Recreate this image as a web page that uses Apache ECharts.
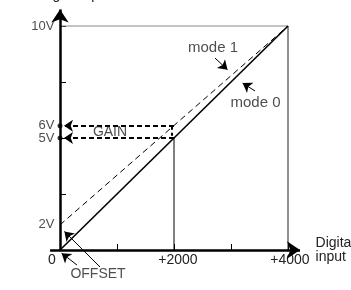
<!DOCTYPE html>
<html><head><meta charset="utf-8">
<script src="https://cdn.jsdelivr.net/npm/echarts@6/dist/echarts.min.js"></script>
<style>html,body{margin:0;padding:0;background:#fff}#c{width:351px;height:290px}</style>
</head><body><div id="c"></div>
<script>
const xTickValues = [0, 2000, 4000];
const xTickLabels = ['0', '+2000', '+4000'];
const yTickValues = [1.12, 5, 5.55, 10];
const yTickLabels = ['2V', '5V', '6V', '10V'];
const mode0 = [[0, 0], [4000, 10]];
const mode1 = [[0, 1.12], [4000, 10]];
const gainLevels = [5.55, 5];
const gainX = 2000;
const gainArrowEndX = 70;
const annotations = ['mode 1', 'mode 0', 'GAIN', 'OFFSET'];
const annotationAt = [[2684, 9.03], [3430, 6.56], [877, 5.27], [667, -1.07]];
const annotationSize = [15, 15, 14, 14];
const pointerFrom = [[2719, 8.57], [3421, 7.10], [702, -0.76], [298, -0.67]];
const pointerTo = [[2939, 8.05], [3204, 7.45], [77, 0.83], [28, -0.14]];
const yAxisEnds = [[0, 0], [0, 10.74]];
const xAxisEnds = [[-174, 0], [4211, 0]];

const FONT = 'Liberation Sans, Arial, sans-serif';
const TXT = '#222';
const chart = echarts.init(document.getElementById('c'), null, {renderer: 'canvas'});

const plainLine = (data, color, width, type, z) => ({
  type: 'line', data, showSymbol: false, symbol: 'none', silent: true, clip: false,
  lineStyle: {color, width, type: type || 'solid'}, z: z || 2, animation: false
});
const arrowLines = (coordsList, width, type, size, z) => ({
  type: 'lines', coordinateSystem: 'cartesian2d', clip: false, silent: true, animation: false,
  symbol: ['none', 'arrow'], symbolSize: size, z: z || 3,
  lineStyle: {color: '#000', width, type: type || 'solid', opacity: 1, curveness: 0},
  data: coordsList.map(c => ({coords: c}))
});

const xLabelRich = {
  z: {padding: [0, 16, 0, 0], fontSize: 14, color: TXT, fontFamily: FONT},
  a: {padding: [0, 0, 0, 8], fontSize: 14, color: TXT, fontFamily: FONT},
  b: {padding: [0, 0, 0, 4], fontSize: 14, color: TXT, fontFamily: FONT}
};
const xKeys = ['z', 'a', 'b'];

chart.setOption({
  animation: false,
  grid: {left: 60, right: 63, top: 26, bottom: 40, containLabel: false, outerBoundsMode: 'none'},
  xAxis: {
    type: 'value', min: 0, max: 4000, interval: 1000,
    axisLine: {show: false}, splitLine: {show: false},
    axisTick: {show: true, inside: true, length: 6, lineStyle: {color: '#000', width: 1}},
    axisLabel: {
      margin: 3, rich: xLabelRich, hideOverlap: false,
      formatter: v => { const i = xTickValues.indexOf(v); return i < 0 ? '' : '{' + xKeys[i] + '|' + xTickLabels[i] + '}'; }
    },
    name: 'Digital\ninput', nameLocation: 'end', nameGap: 26,
    nameTextStyle: {fontSize: 14, color: TXT, fontFamily: FONT, align: 'left', lineHeight: 14}
  },
  yAxis: {
    type: 'value', min: 0, max: 10, interval: 2.5,
    axisLine: {show: false}, splitLine: {show: false},
    axisTick: {show: true, inside: true, length: 6, lineStyle: {color: '#000', width: 1}},
    axisLabel: {show: false},
    name: 'Voltage output', nameLocation: 'end', nameGap: 23.5,
    nameTextStyle: {fontSize: 14, color: TXT, fontFamily: FONT, padding: [0, 0, 0, 12]}
  },
  series: [
    plainLine([[0, 10], [4000, 10]], '#888', 1),
    plainLine([[4000, 10], [4000, 0]], '#222', 1),
    plainLine([[gainX, 0], [gainX, 5]], '#000', 1),
    plainLine(mode1, '#000', 1, [6, 4]),
    plainLine(mode0, '#000', 1.6),
    {
      type: 'lines', coordinateSystem: 'cartesian2d', clip: false, silent: true, animation: false, z: 3,
      lineStyle: {color: '#000', width: 2, type: [4, 3], opacity: 1},
      data: [{coords: [[gainX - 40, gainLevels[0]], [gainX - 40, gainLevels[1] + 0.1]]}]
    },
    arrowLines(gainLevels.map(v => [[gainX, v], [gainArrowEndX, v]]), 2, [5, 3], [7, 9]),
    arrowLines([yAxisEnds], 2.5, 'solid', [9, 13], 5),
    arrowLines([xAxisEnds], 2.5, 'solid', [9, 13], 5),
    arrowLines(pointerFrom.map((p, i) => [p, pointerTo[i]]), 1, 'solid', [6, 9]),
    {
      type: 'scatter', clip: false, silent: true, animation: false, z: 6,
      symbolSize: 5, itemStyle: {color: '#000'},
      data: gainLevels.map(v => [0, v])
    },
    {
      type: 'scatter', clip: false, silent: true, animation: false, z: 6,
      symbolSize: 1, itemStyle: {color: 'rgba(0,0,0,0)'},
      data: yTickValues.map((v, i) => ({value: [0, v], label: {formatter: yTickLabels[i]}})),
      label: {show: true, position: 'left', distance: 5, fontSize: 13, color: TXT, fontFamily: FONT}
    },
    {
      type: 'scatter', clip: false, silent: true, animation: false, z: 6,
      symbolSize: 1, itemStyle: {color: 'rgba(0,0,0,0)'},
      data: annotationAt.map((p, i) => ({value: p, label: {formatter: annotations[i], fontSize: annotationSize[i]}})),
      label: {show: true, position: 'inside', color: TXT, fontFamily: FONT}
    }
  ]
});
</script></body></html>
